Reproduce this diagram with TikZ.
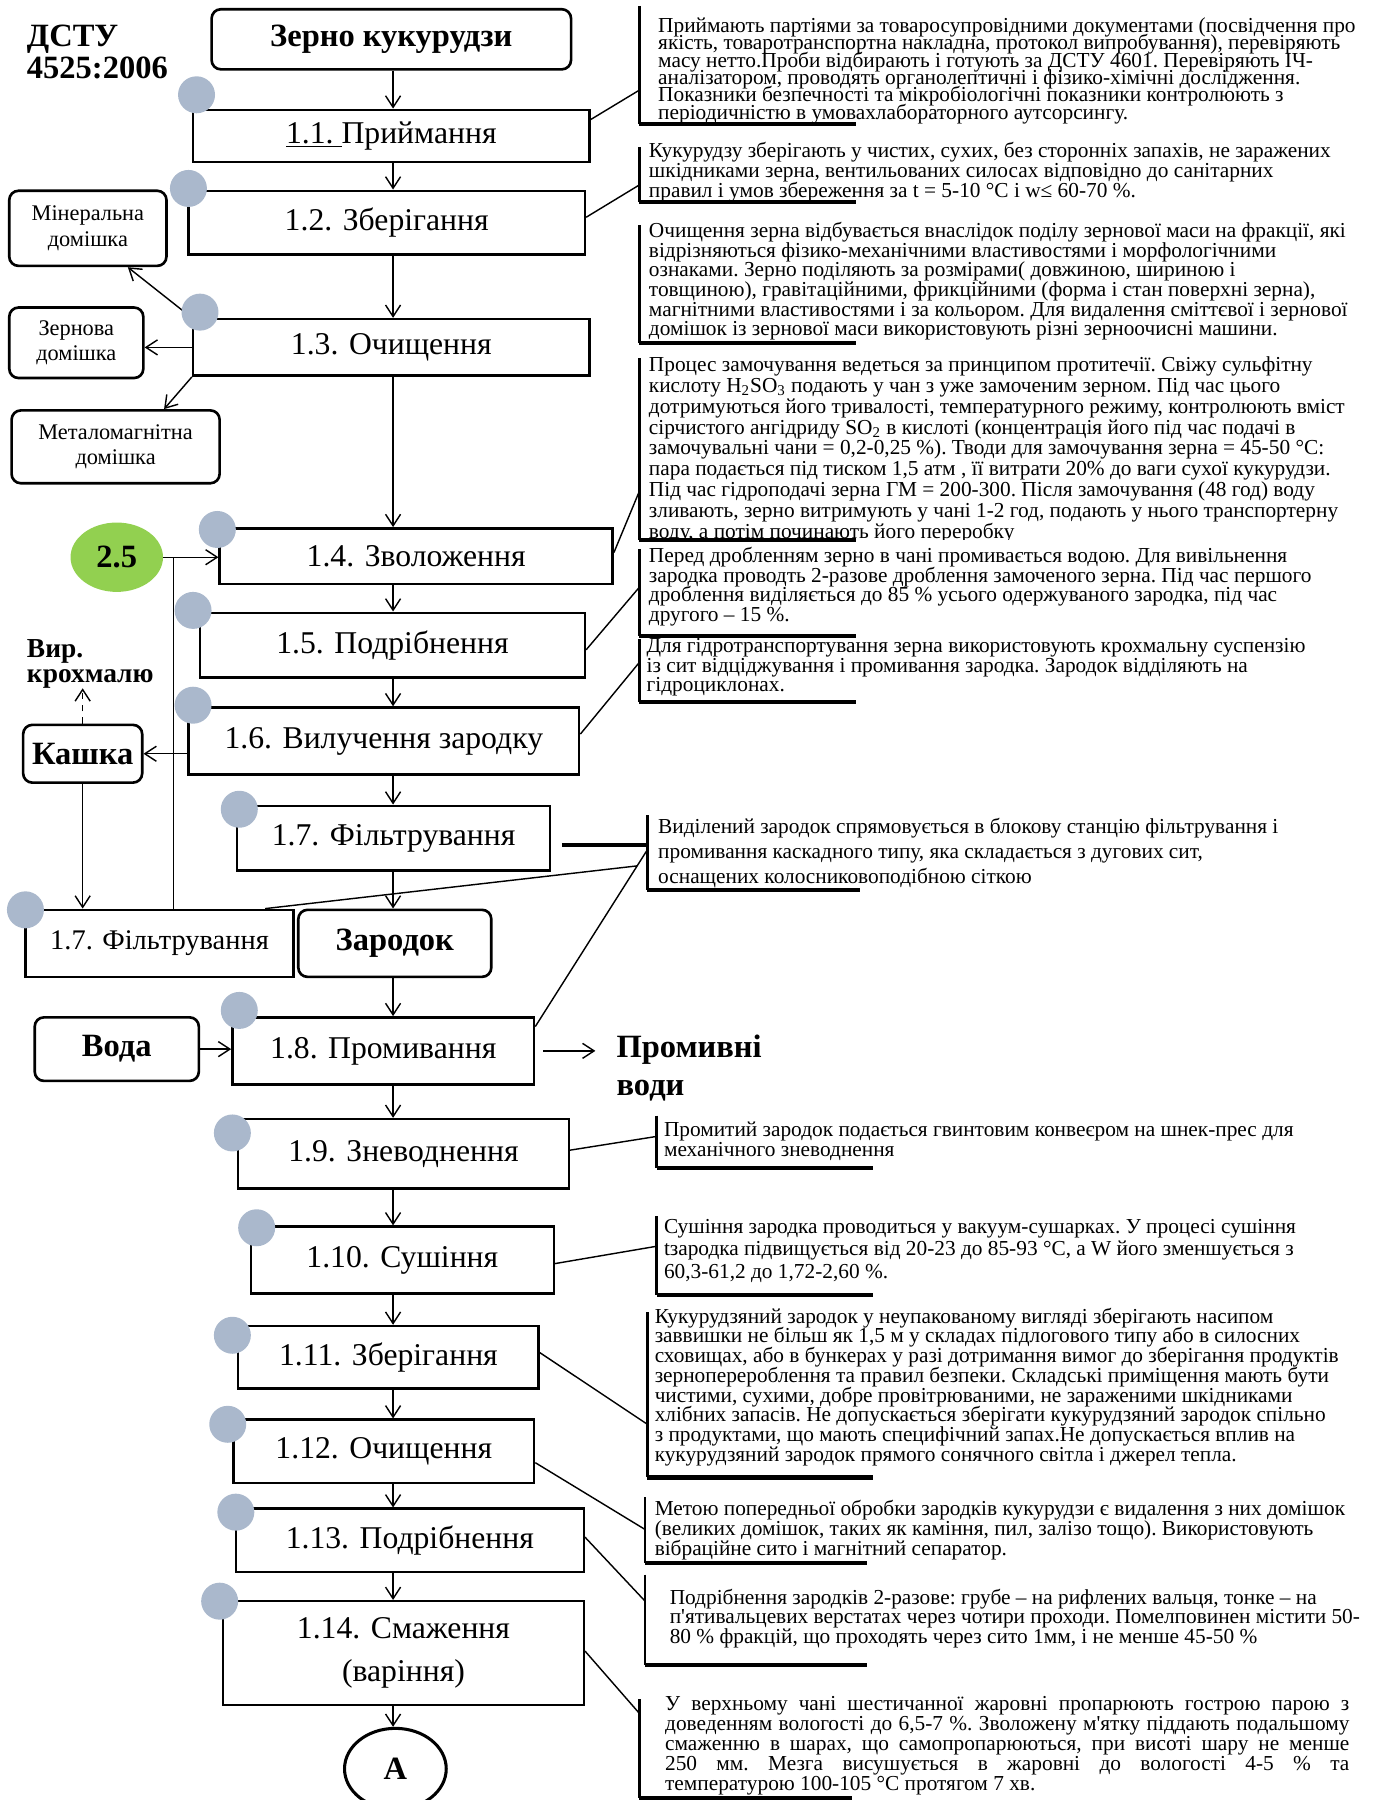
\documentclass[tikz,border=0pt]{standalone}
\usepackage{fontspec}
\setmainfont{Liberation Serif}
\usetikzlibrary{arrows.meta}
\usetikzlibrary{calc}
\usetikzlibrary{shapes.geometric}
\definecolor{dotgray}{RGB}{170,184,204}
\definecolor{lightgreen}{RGB}{146,208,80}
\newcommand\stepfont{\fontsize{15.6}{21}\selectfont}
\newcommand\boldfont{\fontsize{16}{19}\selectfont\bfseries}
\newcommand\smallfont{\fontsize{11}{12.5}\selectfont}
\newcommand\descfont[1]{\fontsize{10.5}{#1}\selectfont\frenchspacing\lineskiplimit=-20pt\lineskip=0pt\relax}
\newcommand\jline[1]{\makebox[11.84cm][s]{#1}}

\tikzset{
  stepbox/.style={draw, line width=1.2pt, font=\stepfont, inner sep=0pt, align=center},
  roundbox/.style={draw, line width=1.3pt, rounded corners=0.16cm, inner sep=0pt, align=center},
  dot/.style={circle, fill=dotgray, minimum size=0.64cm, inner sep=0pt},
  descr/.style={anchor=north west, inner sep=0pt, align=left},
  arr/.style={-{Straight Barb[length=2mm,width=2.6mm]}, line width=0.7pt},
  lnk/.style={line width=0.7pt},
  barv/.style={line width=1.3pt},
  barh/.style={line width=2pt}
}

\begin{document}
\begin{tikzpicture}[x=0.02cm,y=-0.02cm]
\useasboundingbox (0,0) rectangle (1190,1557);

% main chain
\node[roundbox, minimum width=6.22cm, minimum height=1.04cm, font=\boldfont] (zerno) at (338.5,34) {Зерно кукурудзи};
\node[stepbox, minimum width=6.86cm, minimum height=0.9cm] (s1) at (338.5,117.5) {\underline{1.1.\ }Приймання};
\node[stepbox, minimum width=6.86cm, minimum height=1.1cm] (s2) at (334.5,192.5) {1.2. Зберігання};
\node[stepbox, minimum width=6.86cm, minimum height=0.98cm] (s3) at (338.5,300.5) {1.3. Очищення};
\node[stepbox, minimum width=6.8cm, minimum height=0.96cm] (s4) at (360,481) {1.4. Зволоження};
\node[stepbox, minimum width=6.66cm, minimum height=1.12cm] (s5) at (339.5,558) {1.5. Подрібнення};
\node[stepbox, minimum width=6.76cm, minimum height=1.16cm] (s6) at (332,641) {1.6. Вилучення зародку};
\node[stepbox, minimum width=5.42cm, minimum height=1.12cm] (s7) at (340.5,725) {1.7. Фільтрування};
\node[stepbox, minimum width=4.64cm, minimum height=1.16cm, font=\fontsize{14}{17}\selectfont] (s7b) at (138,816) {1.7. Фільтрування};
\node[roundbox, minimum width=3.34cm, minimum height=1.16cm, font=\boldfont] (zar) at (341.5,816) {Зародок};
\node[stepbox, minimum width=5.22cm, minimum height=1.16cm] (s8) at (331.5,909) {1.8. Промивання};
\node[stepbox, minimum width=5.72cm, minimum height=1.2cm] (s9) at (349,998) {1.9. Зневоднення};
\node[stepbox, minimum width=5.24cm, minimum height=1.16cm] (s10) at (348,1090) {1.10. Сушіння};
\node[stepbox, minimum width=5.2cm, minimum height=1.08cm] (s11) at (336,1174) {1.11. Зберігання};
\node[stepbox, minimum width=5.2cm, minimum height=1.1cm] (s12) at (332,1255.5) {1.12. Очищення};
\node[stepbox, minimum width=6.02cm, minimum height=1.1cm] (s13) at (354.5,1332.5) {1.13. Подрібнення};
\node[stepbox, minimum width=6.24cm, minimum height=1.8cm] (s14) at (349,1430) {1.14. Смаження\\(варіння)};
\node[ellipse, draw, line width=1.5pt, minimum width=1.76cm, minimum height=1.4cm, inner sep=0pt, font=\boldfont] (A) at (342,1530) {А};

% side boxes and labels
\node[anchor=north west, inner sep=0pt, align=left, font=\fontsize{16}{15.9}\selectfont\bfseries] (dstu) at (23,21) {ДСТУ\\4525:2006};
\node[roundbox, minimum width=2.72cm, minimum height=1.3cm, font=\smallfont] (min) at (76,197.5) {Мінеральна\\домішка};
\node[roundbox, minimum width=2.32cm, minimum height=1.22cm, font=\smallfont] (zern) at (66,296.5) {Зернова\\домішка};
\node[roundbox, minimum width=3.6cm, minimum height=1.26cm, font=\smallfont] (met) at (100,386.5) {Металомагнітна\\домішка};
\node[ellipse, fill=lightgreen, minimum width=1.6cm, minimum height=1.2cm, inner sep=0pt, font=\boldfont] (g25) at (101,482) {2.5};
\node[anchor=north west, inner sep=0pt, align=left, font=\fontsize{13.5}{12}\selectfont\bfseries] (vyr) at (23,553) {Вир.\\крохмалю};
\node[roundbox, minimum width=2.06cm, minimum height=1cm, font=\boldfont] (kashka) at (71.5,652) {Кашка};
\node[roundbox, minimum width=2.84cm, minimum height=1.1cm, font=\boldfont] (voda) at (101,907.5) {Вода};
\node[anchor=north west, inner sep=0pt, align=left, font=\fontsize{16}{18.8}\selectfont\bfseries] (prom) at (533,895) {Промивні\\води};

% arrows of the chain
\coordinate (ax) at (340,0);
\foreach \a/\b in {zerno/s1, s1/s2, s2/s3, s3/s4, s4/s5, s5/s6, s6/s7, s7/zar, zar/s8, s8/s9, s9/s10, s10/s11, s11/s12, s12/s13, s13/s14, s14/A}
  \draw[arr] (ax |- \a.south) -- (ax |- \b.north);

\draw[arr] (s3.north west) -- ($(min.south east)!.25!(min.south west)$);
\draw[arr] (s3.west) -- (s3.west -| zern.east);
\draw[arr] (s3.south west) -- ($(met.north east)!.27!(met.north west)$);
\draw[arr] (g25.east) -- (g25.east -| s4.west);
\coordinate (ret) at (150,0);
\draw[lnk] (ret |- s7b.north) -- (ret |- g25.east);
\draw[arr, dashed] (kashka.north) -- (kashka.north |- vyr.south);
\draw[arr] (s6.west |- kashka.east) -- (kashka.east);
\draw[arr] (kashka.south) -- (kashka.south |- s7b.north);
\draw[arr] (voda.east) -- (voda.east -| s8.west);
\draw[arr] ($(s8.east)+(7,0)$) -- ($(s8.east -| prom.west)+(-18,0)$);

% dots on the steps
\foreach \px/\py [count=\i] in {170/82, 163/163, 173/270, 188/458, 167/528, 167/610, 207/700, 22/787, 207/874, 201/980, 222/1062, 201/1155, 197/1232, 204/1308, 190/1385}
  \node[dot] (dot\i) at (\px,\py) {};

% brackets of the notes
\foreach \bx/\bt/\bb/\be in {553/5/107/740, 553/127/175/740, 553/195/297/740, 553/310/467/740, 553/475/550/740, 553/553/607/740, 560/705/770/744, 568/965/1010/755, 568/1052/1120/755, 560/1135/1278/755, 558/1295/1352/750, 558/1362/1440/750, 553/1470/1555/737}
{
  \draw[barv] (\bx,\bt) -- (\bx,\bb);
  \draw[barh] (\bx,\bb) -- (\be,\bb);
}

% notes
\node[descr, font=\descfont{8.54}] (d1) at (569,15) {Приймають партіями за товаросупровідними документами (посвідчення про\\
якість, товаротранспортна накладна, протокол випробування), перевіряють\\
масу нетто.Проби відбирають і готують за ДСТУ 4601. Перевіряють ІЧ-\\
аналізатором, проводять  органолептичні і фізико-хімічні дослідження.\\
Показники безпечності та мікробіологічні показники контролюють з\\
періодичністю в умовахлабораторного аутсорсингу.};
\node[descr, font=\descfont{9.67}] (d2) at (561,123) {Кукурудзу зберігають у чистих, сухих, без сторонніх запахів, не заражених\\
шкідниками зерна, вентильованих  силосах відповідно до санітарних\\
правил і умов збереження за t = 5-10 °C і w≤ 60-70 \%.};
\node[descr, font=\descfont{9.67}] (d3) at (561,192) {Очищення зерна відбувається внаслідок поділу зернової маси на фракції, які\\
відрізняються фізико-механічними властивостями  і морфологічними\\
ознаками. Зерно  поділяють за розмірами( довжиною, шириною і\\
товщиною), гравітаційними, фрикційними (форма і стан поверхні зерна),\\
магнітними властивостями і за кольором. Для видалення сміттєвої і зернової\\
домішок із зернової маси використовують різні зерноочисні машини.};
\begin{scope}
\clip (553,300) rectangle (1190,467);
\node[descr, font=\descfont{10.3}] (d4) at (561,308) {Процес замочування ведеться за принципом протитечії. Свіжу сульфітну\\
кислоту H\textsubscript{2}SO\textsubscript{3} подають у чан з уже замоченим зерном. Під час цього\\
дотримуються його тривалості, температурного режиму, контролюють вміст\\
сірчистого ангідриду SO\textsubscript{2} в кислоті (концентрація  його під час подачі в\\
замочувальні чани = 0,2-0,25 \%).  Тводи для замочування зерна = 45-50 °C:\\
пара подається під тиском 1,5 атм , її витрати 20\% до ваги сухої кукурудзи.\\
Під час гідроподачі зерна ГМ = 200-300. Після замочування (48 год)  воду\\
зливають, зерно витримують у чані 1-2 год, подають у нього транспортерну\\
воду, а потім починають його переробку};
\end{scope}
\node[descr, font=\descfont{9.67}] (d5) at (561,473) {Перед дробленням зерно в чані промивається водою. Для вивільнення\\
зародка проводть 2-разове дроблення замоченого зерна. Під час першого\\
дроблення виділяється до 85 \% усього одержуваного зародка, під час\\
другого – 15 \%.};
\node[descr, font=\descfont{9.67}] (d6) at (559,552) {Для гідротранспортування зерна використовують крохмальну суспензію\\
із сит відціджування і промивання зародка. Зародок відділяють на\\
гідроциклонах.};
\node[descr, font=\descfont{12.5}] (d7) at (569,707) {Виділений зародок спрямовується в блокову станцію фільтрування і\\
промивання  каскадного типу, яка складається з дугових сит,\\
оснащених колосниковоподібною сіткою};
\node[descr, font=\descfont{9.67}] (d9) at (574,970) {Промитий зародок подається гвинтовим конвеєром  на шнек-прес  для\\
механічного зневоднення};
\node[descr, font=\descfont{11.1}] (d10) at (574,1054) {Сушіння зародка проводиться у вакуум-сушарках. У процесі сушіння\\
tзародка підвищується від 20-23 до 85-93 °C, а W його зменшується з\\
60,3-61,2 до 1,72-2,60 \%.};
\node[descr, font=\descfont{9.7}] (d11) at (566,1131) {Кукурудзяний зародок у неупакованому вигляді зберігають насипом\\
заввишки не більш як 1,5 м у складах підлогового типу або в силосних\\
сховищах, або в бункерах у разі дотримання вимог до зберігання продуктів\\
зерноперероблення та правил безпеки. Складські приміщення мають бути\\
чистими, сухими, добре провітрюваними, не зараженими шкідниками\\
хлібних запасів. Не допускається зберігати кукурудзяний зародок спільно\\
з продуктами, що мають специфічний запах.Не допускається вплив на\\
кукурудзяний зародок прямого сонячного світла і джерел тепла.};
\node[descr, font=\descfont{9.96}] (d12) at (566,1297) {Метою попередньої обробки зародків кукурудзи є видалення з них домішок\\
(великих домішок, таких як каміння, пил, залізо тощо). Використовують\\
вібраційне сито і магнітний сепаратор.};
\node[descr, font=\descfont{9.67}] (d13) at (579,1374) {Подрібнення зародків 2-разове: грубе – на рифлених вальця, тонке –  на\\
п\textquotesingle ятивальцевих верстатах через чотири проходи. Помелповинен містити 50-\\
80 \% фракцій, що проходять через сито 1мм, і не менше 45-50 \%};
\node[descr, font=\descfont{9.84}] (d14) at (575,1467) {\jline{У верхньому чані шестичанної жаровні пропарюють гострою парою з}\\
\jline{доведенням вологості до 6,5-7 \%. Зволожену м\textquotesingle ятку піддають подальшому}\\
\jline{смаженню в шарах, що самопропарюються, при висоті шару не менше}\\
\jline{250 мм. Мезга висушується в жаровні до вологості 4-5 \% та}\\
температурою 100-105 °C протягом 7 хв.};

% links from steps to notes
\coordinate (b1) at (553,78);
\coordinate (b2) at (553,160);
\coordinate (b4) at (553,425);
\coordinate (b5) at (553,508);
\coordinate (b6) at (553,573);
\coordinate (b7) at (560,731);
\coordinate (b7x) at (551,749);
\coordinate (b8) at (560,735);
\coordinate (b9) at (568,983);
\coordinate (b10) at (568,1078);
\coordinate (b11) at (560,1232);
\coordinate (b12) at (558,1323);
\coordinate (b13) at (558,1385);
\coordinate (b14) at (553,1482);
\draw[lnk] ($(s1.north east)!.2!(s1.south east)$) -- (b1);
\draw[lnk] ($(s2.north east)!.42!(s2.south east)$) -- (b2);
\draw[lnk] ($(s4.north east)!.44!(s4.south east)$) -- (b4);
\draw[lnk] ($(s5.north east)!.57!(s5.south east)$) -- (b5);
\draw[lnk] ($(s6.north east)!.4!(s6.south east)$) -- (b6);
\draw[barh] ($(s7.east)+(9,6)$) -- (b7);
\draw[lnk] ($(s7b.north west)!.89!(s7b.north east)$) -- (b7x);
\draw[lnk] ($(s8.north east)!.15!(s8.south east)$) -- (b8);
\draw[lnk] ($(s9.north east)!.45!(s9.south east)$) -- (b9);
\draw[lnk] ($(s10.north east)!.55!(s10.south east)$) -- (b10);
\draw[lnk] ($(s11.north east)!.43!(s11.south east)$) -- (b11);
\draw[lnk] ($(s12.north east)!.67!(s12.south east)$) -- (b12);
\draw[lnk] ($(s13.north east)!.45!(s13.south east)$) -- (b13);
\draw[lnk] ($(s14.north east)!.48!(s14.south east)$) -- (b14);
\end{tikzpicture}
\end{document}
